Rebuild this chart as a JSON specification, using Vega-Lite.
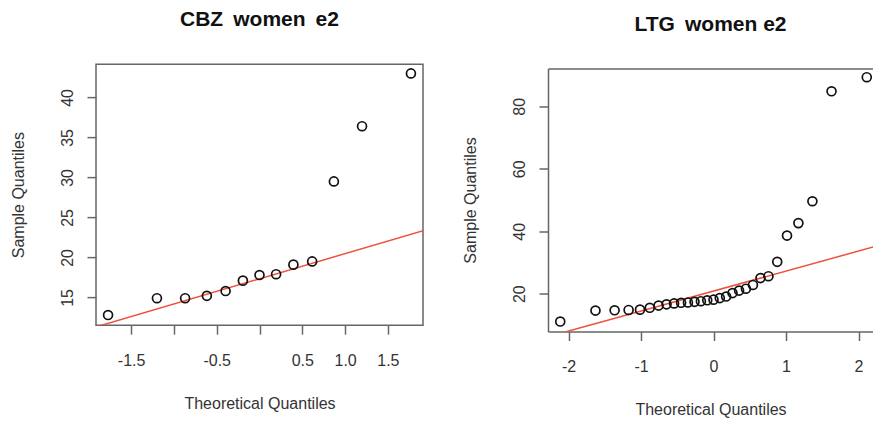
{
  "$schema": "https://vega.github.io/schema/vega-lite/v6.json",
  "background": "white",
  "padding": {"left": 9, "top": 8, "right": 0, "bottom": 0},
  "center": true,
  "config": {
    "font": "Liberation Sans",
    "view": {"stroke": "#666666", "strokeWidth": 1.5},
    "axis": {
      "grid": false, "domain": false, "domainColor": "#666666", "domainWidth": 1.5,
      "tickColor": "#666666", "tickSize": 9, "tickWidth": 1.5,
      "labelFontSize": 16, "labelColor": "#333333", "labelFont": "Liberation Sans",
      "titleFontSize": 16, "titleFontWeight": "normal", "titleColor": "#333333", "titleFont": "Liberation Sans"
    },
    "axisX": {"labelPadding": 18, "titlePadding": 27},
    "axisY": {"labelPadding": 12, "titlePadding": 33, "labelAngle": -90},
    "title": {"fontSize": 21, "fontWeight": "bold", "color": "#111111", "anchor": "middle", "font": "Liberation Sans", "offset": 34},
    "concat": {"spacing": 38}
  },
  "datasets": {
    "cbz": [
      {"theo": -1.769, "sample": 12.8}, {"theo": -1.198, "sample": 14.9}, {"theo": -0.869, "sample": 14.9},
      {"theo": -0.615, "sample": 15.2}, {"theo": -0.396, "sample": 15.8}, {"theo": -0.194, "sample": 17.1},
      {"theo": 0, "sample": 17.8}, {"theo": 0.194, "sample": 17.9}, {"theo": 0.396, "sample": 19.1},
      {"theo": 0.615, "sample": 19.5}, {"theo": 0.869, "sample": 29.5}, {"theo": 1.198, "sample": 36.4},
      {"theo": 1.769, "sample": 43.0}
    ],
    "cbzLine": [{"theo": -1.95, "sample": 11.19}, {"theo": 1.95, "sample": 23.47}],
    "ltg": [
      {"theo": -2.114, "sample": 11.1}, {"theo": -1.628, "sample": 14.6}, {"theo": -1.364, "sample": 14.7},
      {"theo": -1.171, "sample": 14.8}, {"theo": -1.014, "sample": 14.9}, {"theo": -0.879, "sample": 15.5},
      {"theo": -0.758, "sample": 16.2}, {"theo": -0.648, "sample": 16.6}, {"theo": -0.544, "sample": 16.9},
      {"theo": -0.447, "sample": 17.1}, {"theo": -0.353, "sample": 17.2}, {"theo": -0.262, "sample": 17.4},
      {"theo": -0.174, "sample": 17.6}, {"theo": -0.0865, "sample": 17.9}, {"theo": 0, "sample": 18.1},
      {"theo": 0.0865, "sample": 18.6}, {"theo": 0.174, "sample": 19.1}, {"theo": 0.262, "sample": 20.2},
      {"theo": 0.353, "sample": 21.0}, {"theo": 0.447, "sample": 21.6}, {"theo": 0.544, "sample": 22.8},
      {"theo": 0.648, "sample": 25.0}, {"theo": 0.758, "sample": 25.6}, {"theo": 0.879, "sample": 30.2},
      {"theo": 1.014, "sample": 38.6}, {"theo": 1.171, "sample": 42.6}, {"theo": 1.364, "sample": 49.6},
      {"theo": 1.628, "sample": 84.8}, {"theo": 2.114, "sample": 89.3}
    ],
    "ltgLine": [{"theo": -2.35, "sample": 5.81}, {"theo": 2.35, "sample": 35.89}]
  },
  "hconcat": [
    {
      "title": {"text": "CBZ\u2009 women\u2009 e2"},
      "width": 327,
      "height": 261,
      "layer": [
        {
          "data": {"name": "cbzLine"},
          "mark": {"type": "line", "color": "#f0503c", "strokeWidth": 1.5, "clip": true},
          "encoding": {
            "x": {"field": "theo", "type": "quantitative", "scale": {"domain": [-1.91, 1.91], "nice": false, "zero": false},
                  "axis": {"values": [-1.5, -1, -0.5, 0, 0.5, 1, 1.5], "title": ["Theoretical Quantiles", " "], "titleLineHeight": 10,
                           "labelExpr": "datum.value == -1 || datum.value == 0 ? '' : (datum.value < 0 ? '-' + format(abs(datum.value), '.1f') : format(datum.value, '.1f'))"}},
            "y": {"field": "sample", "type": "quantitative", "scale": {"domain": [11.54, 44.16], "nice": false, "zero": false},
                  "axis": {"values": [15, 20, 25, 30, 35, 40], "title": "Sample Quantiles"}}
          }
        },
        {
          "data": {"name": "cbz"},
          "mark": {"type": "point", "shape": "circle", "filled": false, "color": "#111111", "size": 80, "strokeWidth": 1.7, "opacity": 1},
          "encoding": {
            "x": {"field": "theo", "type": "quantitative"},
            "y": {"field": "sample", "type": "quantitative"}
          }
        }
      ]
    },
    {
      "title": {"text": "LTG\u2009 women e2"},
      "width": 325,
      "height": 263,
      "view": {"stroke": null},
      "resolve": {"axis": {"x": "independent"}},
      "layer": [
        {
          "data": {"name": "ltgLine"},
          "mark": {"type": "line", "color": "#f0503c", "strokeWidth": 1.5, "clip": true},
          "encoding": {
            "x": {"field": "theo", "type": "quantitative", "scale": {"domain": [-2.283, 2.2], "nice": false, "zero": false},
                  "axis": {"orient": "top", "labels": false, "ticks": false, "title": null, "domain": true}},
            "y": {"field": "sample", "type": "quantitative", "scale": {"domain": [7.9, 92.1], "nice": false, "zero": false},
                  "axis": {"values": [20, 40, 60, 80], "title": "Sample Quantiles", "domain": true}}
          }
        },
        {
          "data": {"name": "ltg"},
          "mark": {"type": "point", "shape": "circle", "filled": false, "color": "#111111", "size": 80, "strokeWidth": 1.7, "opacity": 1},
          "encoding": {
            "x": {"field": "theo", "type": "quantitative",
                  "axis": {"values": [-2, -1, 0, 1, 2], "title": "Theoretical Quantiles", "domain": true,
                           "labelExpr": "datum.value < 0 ? '-' + format(abs(datum.value), 'd') : format(datum.value, 'd')"}},
            "y": {"field": "sample", "type": "quantitative",
                  "axis": {"values": [20, 40, 60, 80], "title": "Sample Quantiles", "domain": true}}
          }
        }
      ]
    }
  ]
}
